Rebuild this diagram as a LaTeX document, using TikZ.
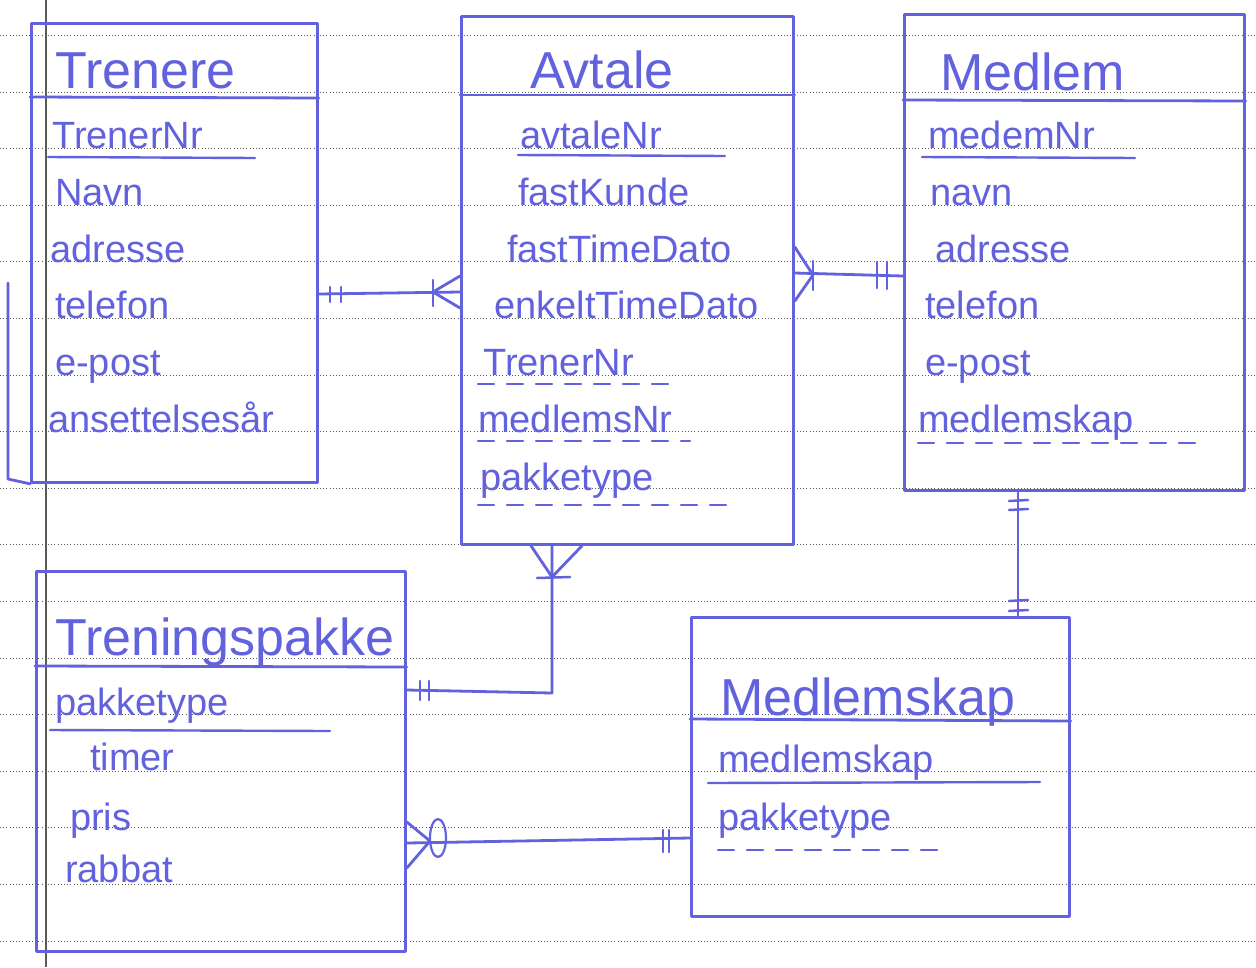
\documentclass[tikz,border=0pt]{standalone}
\usepackage{fontspec}
\setmainfont{Liberation Sans}
\definecolor{ink}{RGB}{98,98,222}
\definecolor{rule}{RGB}{90,90,90}
\tikzset{
  inkline/.style={draw=ink, line width=2.8pt, line cap=round, line join=round},
  box/.style={inkline, rectangle, inner sep=0pt, anchor=north west},
  title/.style={text=ink, anchor=base west, inner sep=0pt, font=\fontsize{52}{56}\selectfont},
  attr/.style={text=ink, anchor=base west, inner sep=0pt, font=\fontsize{38}{42}\selectfont},
  ul/.style={inkline, line width=2.4pt},
  dul/.style={inkline, line width=2.4pt, dash pattern=on 16pt off 13pt},
  paper/.style={draw=rule, line width=1pt, dash pattern=on 1pt off 2.2pt},
  bar/.style={inkline, line width=2.5pt}
}
\begin{document}
\begin{tikzpicture}[x=1pt,y=-1pt]
\useasboundingbox (0,0) rectangle (1256,967);
\fill[white] (0,0) rectangle (1256,967);
% ruled paper
\foreach \k in {0,...,16}{
  \draw[paper] (0,{35.5+56.6*\k}) -- (1256,{35.5+56.6*\k});
}
\draw[rule, line width=1.6pt] (46,0) -- (46,967);

% ---------------- boxes ----------------
\node[box, minimum width=286pt, minimum height=459pt] (trenere) at (30,22) {};
\node[box, minimum width=332pt, minimum height=528pt] (avtale) at (460,15) {};
\node[box, minimum width=340pt, minimum height=476pt] (medlem) at (903,13) {};
\node[box, minimum width=369pt, minimum height=380pt] (pakke) at (35,570) {};
\node[box, minimum width=378pt, minimum height=299pt] (mskap) at (690,616) {};
% extra hand stroke on Trenere left side
\draw[inkline] (8,283) -- (8,479) -- (trenere.south west);

% header separators
\draw[inkline] (trenere.west |- 0,97) -- (trenere.east |- 0,98);
\draw[inkline] (avtale.west |- 0,95) -- (avtale.east |- 0,95);
\draw[inkline] (medlem.west |- 0,100) -- (medlem.east |- 0,101);
\draw[inkline] (pakke.west |- 0,666) -- (pakke.east |- 0,667);
\draw[inkline] (mskap.west |- 0,719) -- (mskap.east |- 0,721);

% ---------------- Trenere ----------------
\node[title] (tT) at (55,88) {Trenere};
\node[attr] (t1) at (52,148) {TrenerNr};
\draw[ul] (48,157) -- (255,158);
\node[attr] (t2) at (55,205) {Navn};
\node[attr] (t3) at (50,262) {adresse};
\node[attr] (t4) at (55,318) {telefon};
\node[attr] (t5) at (55,375) {e-post};
\node[attr] (t6) at (48,432) {ansettelsesår};

% ---------------- Avtale ----------------
\node[title] (aT) at (530,88) {Avtale};
\node[attr] (a1) at (520,148) {avtaleNr};
\draw[ul] (518,155) -- (725,156);
\node[attr] (a2) at (518,205) {fastKunde};
\node[attr] (a3) at (507,262) {fastTimeDato};
\node[attr] (a4) at (494,318) {enkeltTimeDato};
\node[attr] (a5) at (483,375) {TrenerNr};
\draw[dul] (478,384) -- (676,384);
\node[attr] (a6) at (478,432) {medlemsNr};
\draw[dul] (478,441) -- (690,441);
\node[attr] (a7) at (480,490) {pakketype};
\draw[dul] (478,505) -- (730,505);

% ---------------- Medlem ----------------
\node[title] (mT) at (940,90) {Medlem};
\node[attr] (m1) at (928,148) {medemNr};
\draw[ul] (922,157) -- (1135,158);
\node[attr] (m2) at (930,205) {navn};
\node[attr] (m3) at (935,262) {adresse};
\node[attr] (m4) at (925,318) {telefon};
\node[attr] (m5) at (925,375) {e-post};
\node[attr] (m6) at (918,432) {medlemskap};
\draw[dul] (918,443) -- (1195,443);

% ---------------- Treningspakke ----------------
\node[title] (pT) at (55,655) {Treningspakke};
\node[attr] (p1) at (55,715) {pakketype};
\draw[ul] (50,730) -- (330,731);
\node[attr] (p2) at (90,770) {timer};
\node[attr] (p3) at (70,830) {pris};
\node[attr] (p4) at (65,882) {rabbat};

% ---------------- Medlemskap ----------------
\node[title] (sT) at (720,715) {Medlemskap};
\node[attr] (s1) at (718,772) {medlemskap};
\draw[ul] (708,783) -- (1040,782);
\node[attr] (s2) at (718,830) {pakketype};
\draw[dul] (718,850) -- (945,850);

% ---------------- connectors ----------------
% Trenere -- Avtale
\draw[inkline] (trenere.east |- 0,294) -- (avtale.west |- 0,292);
\draw[bar] (330,287) -- (330,302);
\draw[bar] (341,287) -- (341,302);
\draw[bar] (433,280) -- (433,306);
\draw[inkline] (433,292) -- (avtale.west |- 0,276);
\draw[inkline] (433,292) -- (avtale.west |- 0,308);

% Avtale -- Medlem
\draw[inkline] (avtale.east |- 0,273) -- (medlem.west |- 0,276);
\draw[bar] (813,261) -- (813,290);
\draw[inkline] (813,275) -- (avtale.east |- 0,247);
\draw[inkline] (813,275) -- (avtale.east |- 0,301);
\draw[bar] (877,262) -- (877,288);
\draw[bar] (887,262) -- (887,289);

% Medlem -- Medlemskap
\draw[inkline] (medlem.south -| 1018,0) -- (mskap.north -| 1018,0);
\draw[bar] (1009,501) -- (1028,500);
\draw[bar] (1009,510) -- (1028,509);
\draw[bar] (1009,601) -- (1028,600);
\draw[bar] (1009,611) -- (1028,610);

% Avtale -- Treningspakke
\draw[inkline] (avtale.south -| 552,0) -- (552,693) -- (pakke.east |- 0,690);
\draw[bar] (537,578) -- (570,577);
\draw[inkline] (552,577) -- (avtale.south -| 531,0);
\draw[inkline] (552,577) -- (avtale.south -| 582,0);
\draw[bar] (420,681) -- (420,700);
\draw[bar] (429,681) -- (429,700);

% Treningspakke -- Medlemskap
\draw[inkline] (pakke.east |- 0,843) -- (mskap.west |- 0,838);
\draw[inkline] (430,841) -- (pakke.east |- 0,822);
\draw[inkline] (430,841) -- (pakke.east |- 0,868);
\draw[inkline, line width=2.2pt] (438,838) ellipse [x radius=8pt, y radius=19pt];
\draw[bar] (663,830) -- (663,852);
\draw[bar] (669,830) -- (669,852);
\end{tikzpicture}
\end{document}
